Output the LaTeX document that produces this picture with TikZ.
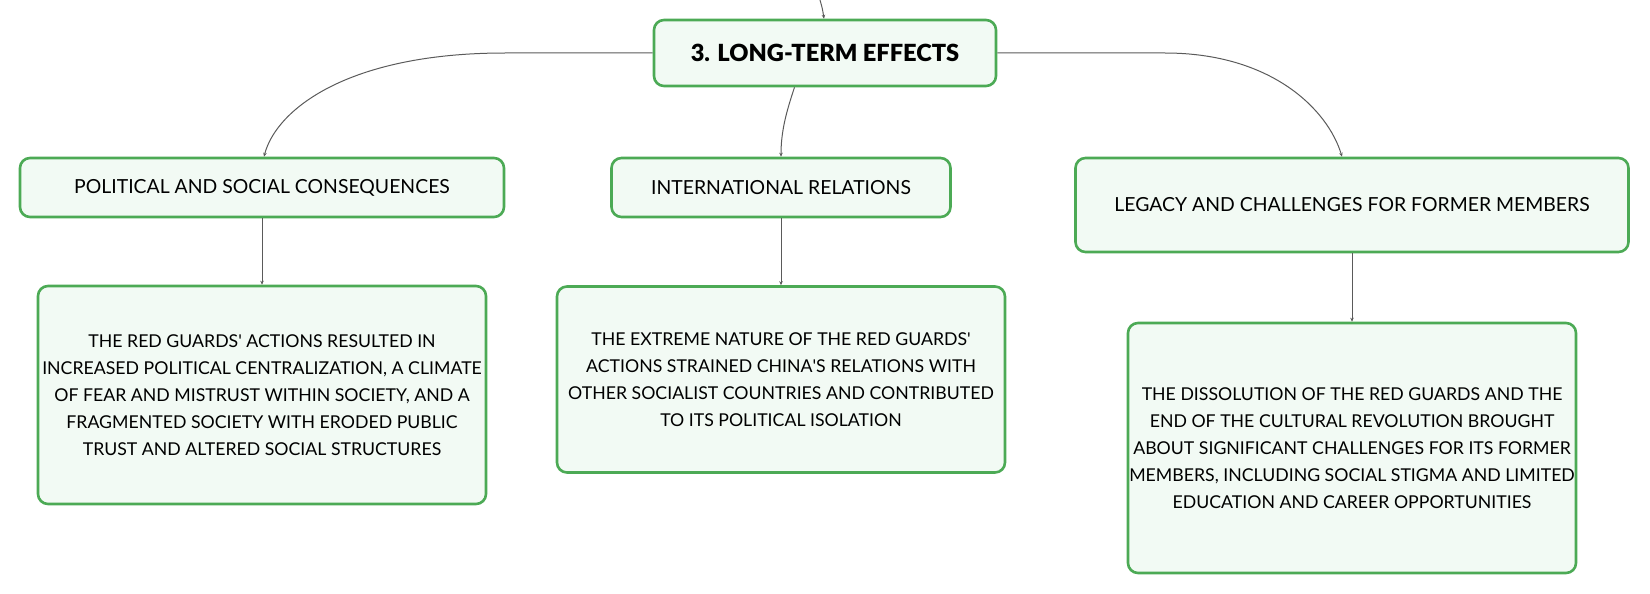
\documentclass[tikz,border=0pt]{standalone}
\usepackage{fontspec}
\setmainfont{Lato}
\newfontfamily\blackfont{Lato Black}
\usetikzlibrary{arrows.meta}
\definecolor{bordergreen}{HTML}{4CAA55}
\definecolor{boxfill}{HTML}{F2FAF4}
\definecolor{linegray}{HTML}{5A5A5A}
\tikzset{
  x=1pt, y=-1pt,
  box/.style={draw=bordergreen, line width=2.6pt, fill=boxfill, rounded corners=10pt, align=center, inner sep=0pt},
  leaf/.style={box, font=\fontsize{17.7}{27}\selectfont},
  mid/.style={box, font=\fontsize{19.4}{27}\selectfont},
  link/.style={draw=linegray, line width=1pt, -{Stealth[length=4pt,width=3.5pt]}},
}
\newcommand{\apos}{\textquotesingle}
\begin{document}
\begin{tikzpicture}
\useasboundingbox (0,0) rectangle (1650,594);
\node[box, minimum width=342pt, minimum height=66pt, font=\blackfont\fontsize{23.6}{27}\selectfont] (top) at (825,53) {3. LONG-TERM EFFECTS};
\node[mid, minimum width=484pt, minimum height=59pt] (pa) at (262,187.5) {POLITICAL AND SOCIAL CONSEQUENCES};
\node[mid, minimum width=339pt, minimum height=59pt] (pb) at (781,187.5) {INTERNATIONAL RELATIONS};
\node[mid, minimum width=553pt, minimum height=94pt] (pc) at (1352,205) {LEGACY AND CHALLENGES FOR FORMER MEMBERS};
\node[leaf, minimum width=448pt, minimum height=218pt] (la) at (262,395) {THE RED GUARDS\apos{} ACTIONS RESULTED IN\\INCREASED POLITICAL CENTRALIZATION, A CLIMATE\\OF FEAR AND MISTRUST WITHIN SOCIETY, AND A\\FRAGMENTED SOCIETY WITH ERODED PUBLIC\\TRUST AND ALTERED SOCIAL STRUCTURES};
\node[leaf, minimum width=448pt, minimum height=186pt] (lb) at (781,379.5) {THE EXTREME NATURE OF THE RED GUARDS\apos\\ACTIONS STRAINED CHINA\apos{}S RELATIONS WITH\\OTHER SOCIALIST COUNTRIES AND CONTRIBUTED\\TO ITS POLITICAL ISOLATION};
\node[leaf, minimum width=448pt, minimum height=250pt] (lc) at (1352,448) {THE DISSOLUTION OF THE RED GUARDS AND THE\\END OF THE CULTURAL REVOLUTION BROUGHT\\ABOUT SIGNIFICANT CHALLENGES FOR ITS FORMER\\MEMBERS, INCLUDING SOCIAL STIGMA AND LIMITED\\EDUCATION AND CAREER OPPORTUNITIES};
\coordinate (src) at (820,0);
\draw[link] (src) .. controls (822.5,9) .. ([xshift=-1pt]top.north);
\draw[link] (top.west) -- (505,53) .. controls (347,53) and (276,110) .. ([xshift=2pt]pa.north);
\draw[link] (top.east) -- (1165,53) .. controls (1272,53) and (1328,110) .. ([xshift=-10pt]pc.north);
\draw[link] ([xshift=-30.5pt]top.south) .. controls (787,110) and (781,130) .. (pb.north);
\draw[link] (pa.south) -- (la.north);
\draw[link] (pb.south) -- (lb.north);
\draw[link] (pc.south) -- (lc.north);
\end{tikzpicture}
\end{document}
